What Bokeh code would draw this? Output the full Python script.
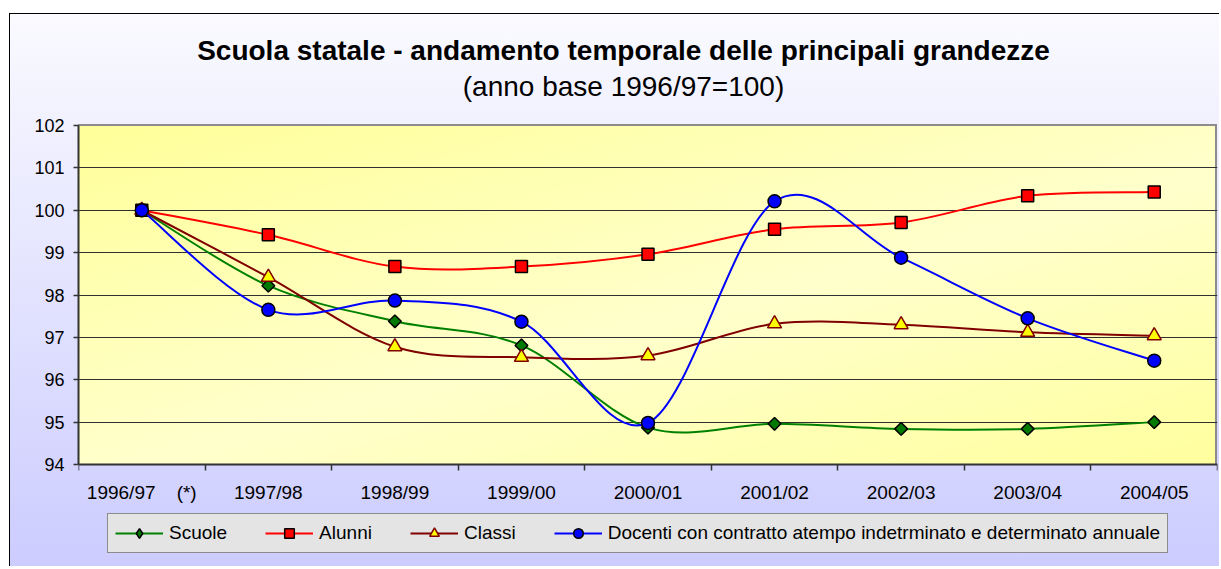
from bokeh.plotting import figure
from bokeh.models import Range1d, FixedTicker, Label, Legend, LegendItem
from bokeh.embed import file_html
from bokeh.resources import INLINE

# ---- data ----
years = ["1996/97\u00a0\u00a0\u00a0\u00a0(*)", "1997/98", "1998/99", "1999/00", "2000/01",
         "2001/02", "2002/03", "2003/04", "2004/05"]
scuole = [100.0, 98.22, 97.38, 96.81, 94.87, 94.96, 94.84, 94.84, 95.00]
alunni = [100.0, 99.42, 98.67, 98.67, 98.96, 99.55, 99.71, 100.34, 100.43]
classi = [100.0, 98.42, 96.78, 96.53, 96.57, 97.32, 97.30, 97.12, 97.04]
docenti = [100.0, 97.65, 97.87, 97.37, 94.98, 100.21, 98.88, 97.45, 96.45]
series_names = ["Scuole", "Alunni", "Classi",
                "Docenti con contratto atempo indetrminato e determinato annuale"]
y_ticks = [94, 95, 96, 97, 98, 99, 100, 101, 102]
title_text = "Scuola statale - andamento temporale delle principali grandezze"
subtitle_text = "(anno base 1996/97=100)"

FONT = "Liberation Sans"
# layout (pixels)
W, H = 1219, 566
ML, MR, MT, MB = 78, 2, 14, 5          # frame spans title area down to legend area
PLOT_TOP, PLOT_BOTTOM = 125, 464       # where the y scale 94..102 is shown
FW, FH = W - ML - MR, H - MT - MB
ppu = (PLOT_BOTTOM - PLOT_TOP) / (y_ticks[-1] - y_ticks[0])
y_start = y_ticks[0] - ((H - MB) - PLOT_BOTTOM) / ppu
y_end = y_ticks[-1] + (PLOT_TOP - MT) / ppu

p = figure(width=W, height=H, x_range=Range1d(-0.5, len(years) - 0.5),
           y_range=Range1d(y_start, y_end),
           output_backend="svg", toolbar_location=None,
           min_border_left=ML, min_border_right=MR, min_border_top=MT, min_border_bottom=MB)

p.border_fill_alpha = 0
p.background_fill_alpha = 0
p.outline_line_color = None

PW, PH = FW, PLOT_BOTTOM - PLOT_TOP
p.styles = {
    "background": (
        "linear-gradient(#000,#000) 9px 13px / 1px 100% no-repeat, "
        "linear-gradient(#000,#000) 9px 13px / 100% 1px no-repeat, "
        f"linear-gradient(#8c8c8c,#8c8c8c) {ML}px {PLOT_TOP - 1}px / {PW}px 2px no-repeat, "
        f"linear-gradient(#8c8c8c,#8c8c8c) {ML + PW - 2}px {PLOT_TOP}px / 2px {PH}px no-repeat, "
        f"linear-gradient(165deg, #ffff99 0%, #ffffcc 55%, #ffff9e 100%) {ML}px {PLOT_TOP}px / {PW}px {PH}px no-repeat, "
        "linear-gradient(#ffffff 0px, #ffffff 13px, #fafaff 14px, #ccccff 100%) 9px 0px / 100% 100% no-repeat"
    )
}

# ---- axes ----
xs = list(range(len(years)))
p.xaxis.fixed_location = y_ticks[0]
p.xaxis.ticker = FixedTicker(ticks=xs, minor_ticks=[i - 0.5 for i in range(len(years) + 1)])
p.xaxis.major_label_overrides = {i: years[i] for i in xs}
p.xaxis.major_tick_out = 0
p.xaxis.major_tick_in = 0
p.xaxis.minor_tick_out = 6
p.xaxis.minor_tick_in = 0
p.xaxis.minor_tick_line_color = "#333333"
p.xaxis.minor_tick_line_width = 1.5
p.xaxis.major_label_standoff = 11
p.xaxis.major_label_text_font_size = "19px"
p.xgrid.visible = False

p.yaxis.bounds = (y_ticks[0], y_ticks[-1])
p.yaxis.ticker = FixedTicker(ticks=y_ticks)
p.yaxis.minor_tick_line_color = None
p.yaxis.major_tick_out = 5
p.yaxis.major_tick_in = 0
p.yaxis.major_tick_line_color = "#333333"
p.yaxis.major_tick_line_width = 1.5
p.yaxis.major_label_standoff = 9
p.yaxis.major_label_text_font_size = "18px"
p.ygrid.ticker = FixedTicker(ticks=y_ticks[1:-1])
p.ygrid.grid_line_color = "#303030"
p.ygrid.grid_line_width = 1

for ax in (p.xaxis, p.yaxis):
    ax.axis_line_color = "#333333"
    ax.axis_line_width = 2
    ax.major_label_text_font = FONT
    ax.major_label_text_color = "#000000"

# ---- smoothed lines (Bezier through the data points) + markers ----
def bez(ys):
    n = len(ys)
    x0, y0, x1, y1, cx0, cy0, cx1, cy1 = [], [], [], [], [], [], [], []
    for i in range(n - 1):
        ip, i2 = max(i - 1, 0), min(i + 2, n - 1)
        x0.append(xs[i]); y0.append(ys[i]); x1.append(xs[i + 1]); y1.append(ys[i + 1])
        cx0.append(xs[i] + (xs[i + 1] - xs[ip]) / 6.0)
        cy0.append(ys[i] + (ys[i + 1] - ys[ip]) / 6.0)
        cx1.append(xs[i + 1] - (xs[i2] - xs[i]) / 6.0)
        cy1.append(ys[i + 1] - (ys[i2] - ys[i]) / 6.0)
    return dict(x0=x0, y0=y0, x1=x1, y1=y1, cx0=cx0, cy0=cy0, cx1=cx1, cy1=cy1)

styles = [
    (scuole, "#008000", dict(marker="square", angle=0.7854, size=9, fill_color="#007a00", line_color="#000000")),
    (alunni, "#ff0000", dict(marker="square", size=12, fill_color="#ff0000", line_color="#000000")),
    (classi, "#800000", dict(marker="triangle", size=14, fill_color="#ffff00", line_color="#800000")),
    (docenti, "#0000ff", dict(marker="circle", size=13, fill_color="#0000ff", line_color="#000000")),
]

items = []
for k, (name, (ys, col, mk)) in enumerate(zip(series_names, styles)):
    lr = p.bezier(**bez(ys), line_color=col, line_width=2)
    sr = p.scatter(xs, ys, line_width=1.5, **mk)
    rends = [lr, sr]
    if k == 0:
        # legend symbol for the diamond series (the rotated square is not rotated in legends)
        dr = p.scatter(xs, ys, marker="diamond", size=14, fill_color="#007a00",
                       line_color="#000000", line_width=1.5, visible=False)
        rends = [lr, dr]
    items.append(LegendItem(label=name, renderers=rends))

legend = Legend(items=items, orientation="horizontal", location=(29, 8),
                label_text_font=FONT, label_text_font_size="19px", label_text_color="#000000",
                glyph_width=48, glyph_height=24, label_standoff=6, spacing=38,
                padding=7, margin=0,
                background_fill_color="#e4e4e4", background_fill_alpha=1,
                border_line_color="#333333", border_line_width=1.5)
p.add_layout(legend, "center")

# ---- titles (screen units measured from the frame's bottom-left corner) ----
frame_bottom = H - MB
p.add_layout(Label(x=623 - ML, y=frame_bottom - 50, x_units="screen", y_units="screen",
                   text=title_text, text_font=FONT, text_font_size="28px",
                   text_font_style="bold", text_align="center", text_baseline="alphabetic",
                   text_color="#000000"))
p.add_layout(Label(x=623 - ML, y=frame_bottom - 86, x_units="screen", y_units="screen",
                   text=subtitle_text, text_font=FONT, text_font_size="28px",
                   text_align="center", text_baseline="alphabetic", text_color="#000000"))

open("out.html", "w").write(file_html(p, INLINE))
